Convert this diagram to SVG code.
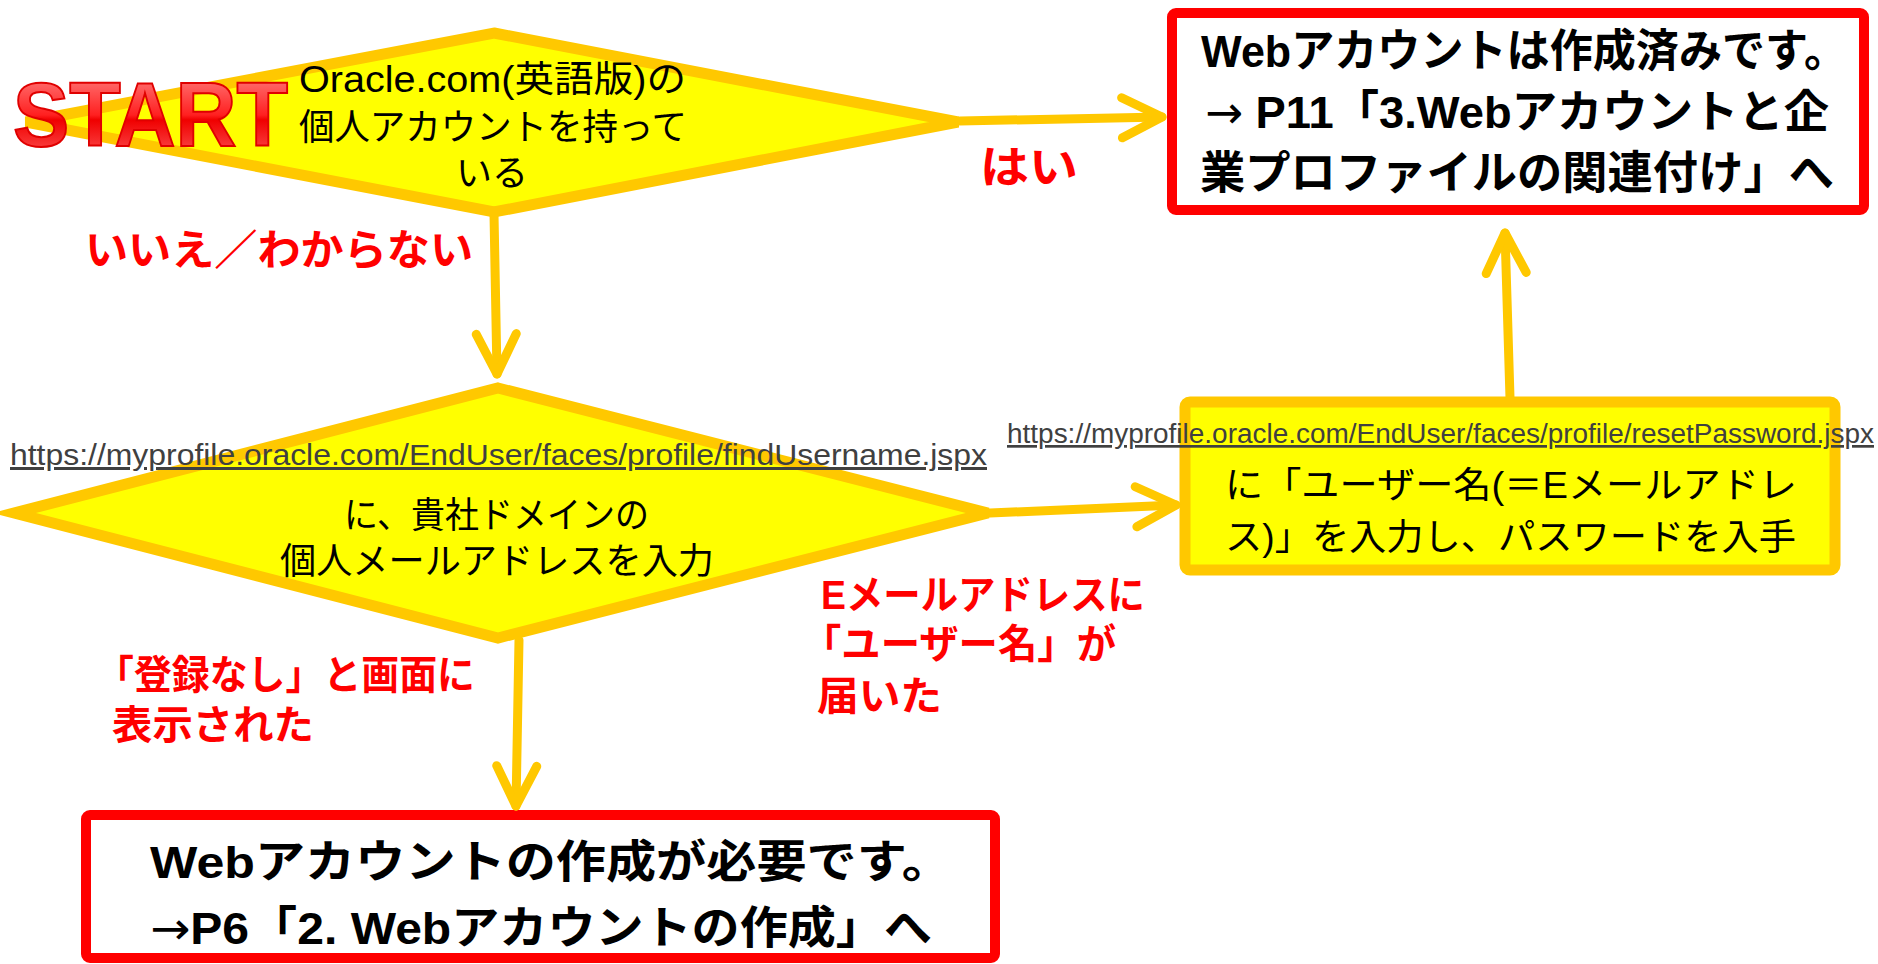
<svg xmlns="http://www.w3.org/2000/svg" width="1878" height="964" viewBox="0 0 1878 964">
<defs>
<linearGradient id="startGrad" x1="0" y1="0" x2="0" y2="1">
<stop offset="0" stop-color="#FF8C8C"/>
<stop offset="0.5" stop-color="#FF2020"/>
<stop offset="0.55" stop-color="#F00000"/>
<stop offset="1" stop-color="#FF6060"/>
</linearGradient>
<marker id="ah" markerUnits="userSpaceOnUse" viewBox="-50 -30 60 60" markerWidth="60" markerHeight="60" refX="0" refY="0" orient="auto" overflow="visible">
<path d="M-40,-20 L0,0 L-40,20" fill="none" stroke="#FFC800" stroke-width="9" stroke-linecap="round" stroke-linejoin="round"/>
</marker>
</defs>
<style>
.dia{fill:#FFFF00;stroke:#FFC800;stroke-width:11;stroke-linejoin:miter}
.ybox{fill:#FFFF00;stroke:#FFC800;stroke-width:11}
.rbox{fill:#FFFFFF;stroke:#FF0000;stroke-width:10}
.t{font-family:"Liberation Sans","Noto Sans CJK JP",sans-serif;fill:#000000}
.n{font-size:36px}
.b{font-size:45px;font-weight:bold}
.arr{font-family:"DejaVu Sans",sans-serif;font-weight:normal}
.url{font-family:"Liberation Sans","Noto Sans CJK JP",sans-serif;fill:#404040;text-decoration:underline}
.lbl{font-family:"Liberation Sans","Noto Sans CJK JP",sans-serif;fill:#FF0000;font-weight:bold}
.conn{fill:none;stroke:#FFC800;stroke-width:9;stroke-linecap:round;marker-end:url(#ah)}
</style>

<g id="decision1">
<polygon class="dia" points="494,33 958,122 494,212 26,122"/>
<text class="t n" x="299" y="92" textLength="387" lengthAdjust="spacingAndGlyphs">Oracle.com(英語版)の</text>
<text class="t n" x="299" y="140" textLength="388" lengthAdjust="spacingAndGlyphs">個人アカウントを持って</text>
<text class="t n" x="456" y="186" textLength="72" lengthAdjust="spacingAndGlyphs">いる</text>
</g>

<g id="decision2">
<polygon class="dia" points="498,388 988,513 498,638 14,513"/>
<text class="t n" x="344" y="528" textLength="305" lengthAdjust="spacingAndGlyphs">に、貴社ドメインの</text>
<text class="t n" x="280" y="574" textLength="434" lengthAdjust="spacingAndGlyphs">個人メールアドレスを入力</text>
<text class="url" x="10" y="465" font-size="30" textLength="977" lengthAdjust="spacingAndGlyphs">https://myprofile.oracle.com/EndUser/faces/profile/findUsername.jspx</text>
</g>

<g id="process-reset">
<rect class="ybox" x="1185" y="402" width="650" height="168" rx="5"/>
<text class="t n" x="1225" y="498" textLength="572" lengthAdjust="spacingAndGlyphs">に「ユーザー名(＝Eメールアドレ</text>
<text class="t n" x="1225" y="550" textLength="571" lengthAdjust="spacingAndGlyphs">ス)」を入力し、パスワードを入手</text>
<text class="url" x="1007" y="443" font-size="27" textLength="867" lengthAdjust="spacingAndGlyphs">https://myprofile.oracle.com/EndUser/faces/profile/resetPassword.jspx</text>
</g>

<g id="result-exists">
<rect class="rbox" x="1172" y="13" width="692" height="197" rx="4"/>
<text class="t b" x="1201" y="67" textLength="646" lengthAdjust="spacingAndGlyphs">Webアカウントは作成済みです。</text>
<text class="t b" x="1205" y="128" textLength="624" lengthAdjust="spacingAndGlyphs"><tspan class="arr">→</tspan> P11「3.Webアカウントと企</text>
<text class="t b" x="1200" y="189" textLength="634" lengthAdjust="spacingAndGlyphs">業プロファイルの関連付け」へ</text>
</g>

<g id="result-create">
<rect class="rbox" x="86" y="815" width="909" height="143" rx="4"/>
<text class="t b" x="150" y="878" font-size="48" textLength="802" lengthAdjust="spacingAndGlyphs">Webアカウントの作成が必要です。</text>
<text class="t b" x="150" y="944" font-size="48" textLength="782" lengthAdjust="spacingAndGlyphs"><tspan class="arr">→</tspan>P6「2. Webアカウントの作成」へ</text>
</g>

<g id="connectors">
<path class="conn" d="M494,214 L497,374"/>
<path class="conn" d="M960,121 L1162,117"/>
<path class="conn" d="M990,513 L1176,505"/>
<path class="conn" d="M1510,398 L1505,233"/>
<path class="conn" d="M519,640 L516,806"/>
</g>

<g id="edge-labels">
<text class="lbl" x="980" y="183" font-size="44" textLength="98" lengthAdjust="spacingAndGlyphs">はい</text>
<text class="lbl" x="85" y="265" font-size="42" textLength="388" lengthAdjust="spacingAndGlyphs">いいえ／わからない</text>
<text class="lbl" x="96" y="689" font-size="40" textLength="379" lengthAdjust="spacingAndGlyphs">「登録なし」と画面に</text>
<text class="lbl" x="112" y="739" font-size="40" textLength="202" lengthAdjust="spacingAndGlyphs">表示された</text>
<text class="lbl" x="821" y="609" font-size="40" textLength="324" lengthAdjust="spacingAndGlyphs">Eメールアドレスに</text>
<text class="lbl" x="802" y="658" font-size="40" textLength="314" lengthAdjust="spacingAndGlyphs">「ユーザー名」が</text>
<text class="lbl" x="817" y="710" font-size="40" textLength="125" lengthAdjust="spacingAndGlyphs">届いた</text>
</g>

<g id="start">
<text x="13" y="146" font-family="'Liberation Sans',sans-serif" font-weight="bold" font-size="90" fill="url(#startGrad)" stroke="#E00000" stroke-width="2" textLength="275" lengthAdjust="spacingAndGlyphs">START</text>
</g>
</svg>
